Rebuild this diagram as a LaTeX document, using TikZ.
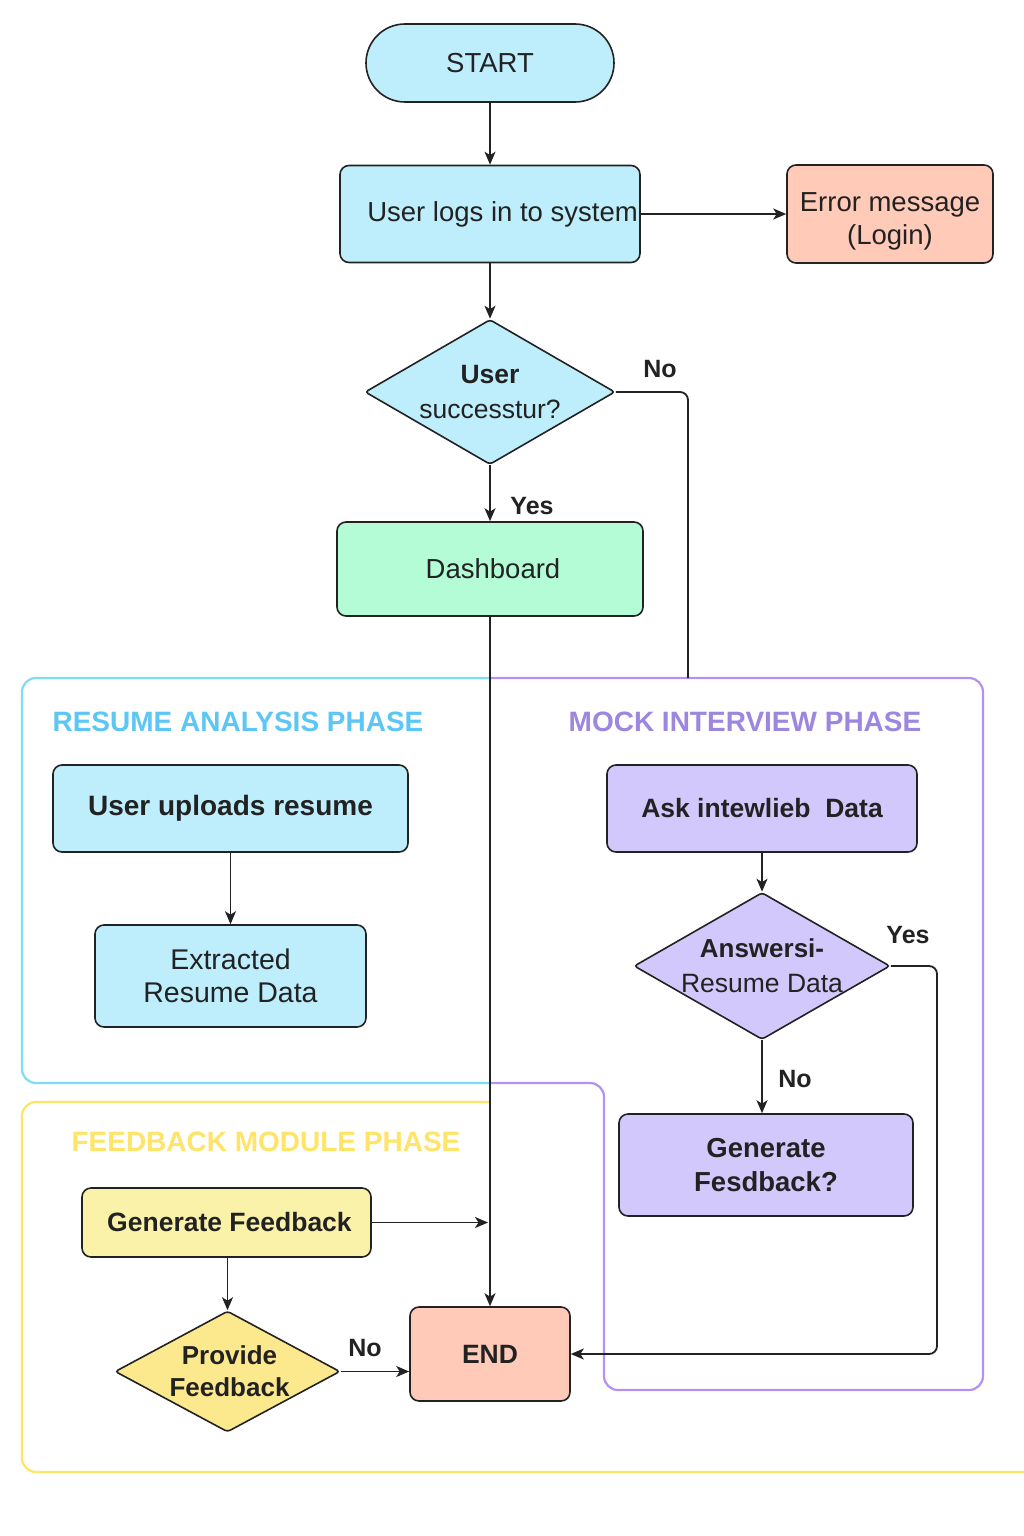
\documentclass[tikz,border=0pt]{standalone}
\usepackage{fontspec}
\setmainfont{Liberation Sans}
\usetikzlibrary{shapes.geometric,arrows.meta}
\definecolor{cyanfill}{RGB}{190,238,252}
\definecolor{mintfill}{RGB}{179,252,214}
\definecolor{salmonfill}{RGB}{255,202,184}
\definecolor{purplefill}{RGB}{211,200,251}
\definecolor{yellowfill}{RGB}{251,242,170}
\definecolor{yellowdia}{RGB}{252,233,142}
\definecolor{cyanline}{RGB}{125,221,247}
\definecolor{purpleline}{RGB}{180,145,242}
\definecolor{yellowline}{RGB}{255,229,102}
\definecolor{cyantitle}{RGB}{92,198,244}
\definecolor{purpletitle}{RGB}{156,134,223}
\definecolor{yellowtitle}{RGB}{255,228,104}
\definecolor{ink}{RGB}{34,34,34}
\tikzset{
  box/.style={draw=ink, line width=1.6pt, rounded corners=9pt, inner sep=0pt, align=center, text=ink,
    font=\fontsize{27.5}{33}\selectfont},
  bbox/.style={box, font=\fontsize{26.5}{34}\selectfont\bfseries},
  dia/.style={draw=ink, line width=1.6pt, diamond, rounded corners=3pt, inner sep=0pt, align=center, text=ink,
    font=\fontsize{26.5}{35}\selectfont},
  conn/.style={draw=ink, line width=1.8pt},
  arr/.style={conn, -{Stealth[length=13pt,width=11pt,inset=3.5pt]}},
  lbl/.style={text=ink, font=\fontsize{25}{30}\selectfont\bfseries, inner sep=0pt},
  phase/.style={font=\fontsize{28}{32}\selectfont\bfseries, inner sep=0pt},
  frame/.style={line width=2.2pt, rounded corners=14pt},
}
\begin{document}
\begin{tikzpicture}[x=1pt,y=-1pt]
\useasboundingbox[fill=white] (0,0) rectangle (1024,1536);

% phase frames
\draw[frame, draw=cyanline] (490,678) -- (22,678) -- (22,1083) -- (490,1083);
\draw[frame, draw=purpleline] (490,678) -- (983,678) -- (983,1390) -- (604,1390) -- (604,1083) -- (490,1083);
\draw[frame, draw=yellowline] (490,1102) -- (22,1102) -- (22,1472) -- (1030,1472);

\node[phase, text=cyantitle] (t1) at (238,722) {RESUME ANALYSIS PHASE};
\node[phase, text=purpletitle] (t2) at (745,722) {MOCK INTERVIEW PHASE};
\node[phase, text=yellowtitle] (t3) at (266,1142) {FEEDBACK MODULE PHASE};

% nodes
\node[box, fill=cyanfill, rounded corners=39pt, minimum width=248pt, minimum height=78pt] (start) at (490,63) {START};
\node[box, fill=cyanfill, minimum width=300pt, minimum height=97pt] (login) at (490,214) {\hspace*{25pt}User logs in to system};
\node[box, fill=salmonfill, minimum width=206pt, minimum height=98pt] (err) at (890,214) {\raisebox{-7pt}[\height][\depth]{\begin{tabular}{@{}c@{}}Error message\\(Login)\end{tabular}}};
\node[dia, fill=cyanfill, minimum width=250pt, minimum height=145pt, aspect=1.72] (dec1) at (490,392) {\textbf{User}\\successtur?};
\node[box, fill=mintfill, minimum width=306pt, minimum height=94pt] (dash) at (490,569) {\hspace*{6pt}Dashboard};

\node[bbox, fill=cyanfill, minimum width=355pt, minimum height=87pt, font=\fontsize{28}{34}\selectfont\bfseries] (upl) at (230.5,808.5) {User uploads resume};
\node[box, fill=cyanfill, minimum width=271pt, minimum height=102pt, font=\fontsize{28.5}{33}\selectfont] (ext) at (230.5,976) {Extracted\\Resume Data};

\node[bbox, fill=purplefill, minimum width=310pt, minimum height=87pt] (ask) at (762,808.5) {Ask intewlieb\ \ Data};
\node[dia, fill=purplefill, minimum width=256pt, minimum height=147pt, aspect=1.74, inner sep=-10pt, font=\fontsize{26.5}{35}\selectfont] (dec2) at (762,966) {\textbf{\fontsize{26}{35}\selectfont Answersi-}\\Resume Data};
\node[bbox, fill=purplefill, minimum width=294pt, minimum height=102pt, font=\fontsize{27.5}{34}\selectfont\bfseries] (gen2) at (766,1165) {Generate\\Fesdback?};

\node[bbox, fill=yellowfill, minimum width=289pt, minimum height=69pt] (gfb) at (226.5,1222.5) {\hspace*{6pt}Generate Feedback};
\node[dia, fill=yellowdia, minimum width=225pt, minimum height=121pt, aspect=1.86, font=\fontsize{26}{32}\selectfont\bfseries] (dec3) at (227.5,1371.5) {\hspace*{4pt}Provide\\\hspace*{4pt}Feedback};
\node[bbox, fill=salmonfill, minimum width=160pt, minimum height=94pt] (endn) at (490,1354) {END};

% helper coordinates
\coordinate (nocorner) at (688,392);
\coordinate (noend) at (688,678);
\coordinate (yescorner) at (937,966);
\coordinate (fbjoin) at (488,1223);

% connectors
\draw[arr] (start.south) -- (login.north);
\draw[arr] (login.east) -- (login.east -| err.west);
\draw[arr] (login.south) -- (dec1.north);
\draw[conn, rounded corners=8pt] (dec1.east) -- (dec1.east -| nocorner) -- (noend);
\draw[arr] (dec1.south) -- (dash.north);
\draw[arr] (dash.south) -- (endn.north);
\draw[arr] (upl.south) -- (upl.south |- ext.north);
\draw[arr] (ask.south) -- (dec2.north);
\draw[arr, rounded corners=8pt] (dec2.east) -- (dec2.east -| yescorner) -- (yescorner |- endn.east) -- (endn.east);
\draw[arr] (dec2.south) -- (dec2.south |- gen2.north);
\draw[arr] (gfb.east) -- (gfb.east -| fbjoin);
\draw[arr] (gfb.south -| dec3.north) -- (dec3.north);
\draw[arr] (dec3.east) -- (dec3.east -| endn.west);

% labels
\node[lbl] (l1) at (660,369) {No};
\node[lbl] (l2) at (532,506) {Yes};
\node[lbl] (l3) at (908,935) {Yes};
\node[lbl] (l4) at (795,1079) {No};
\node[lbl] (l5) at (365,1348) {No};
\end{tikzpicture}
\end{document}
